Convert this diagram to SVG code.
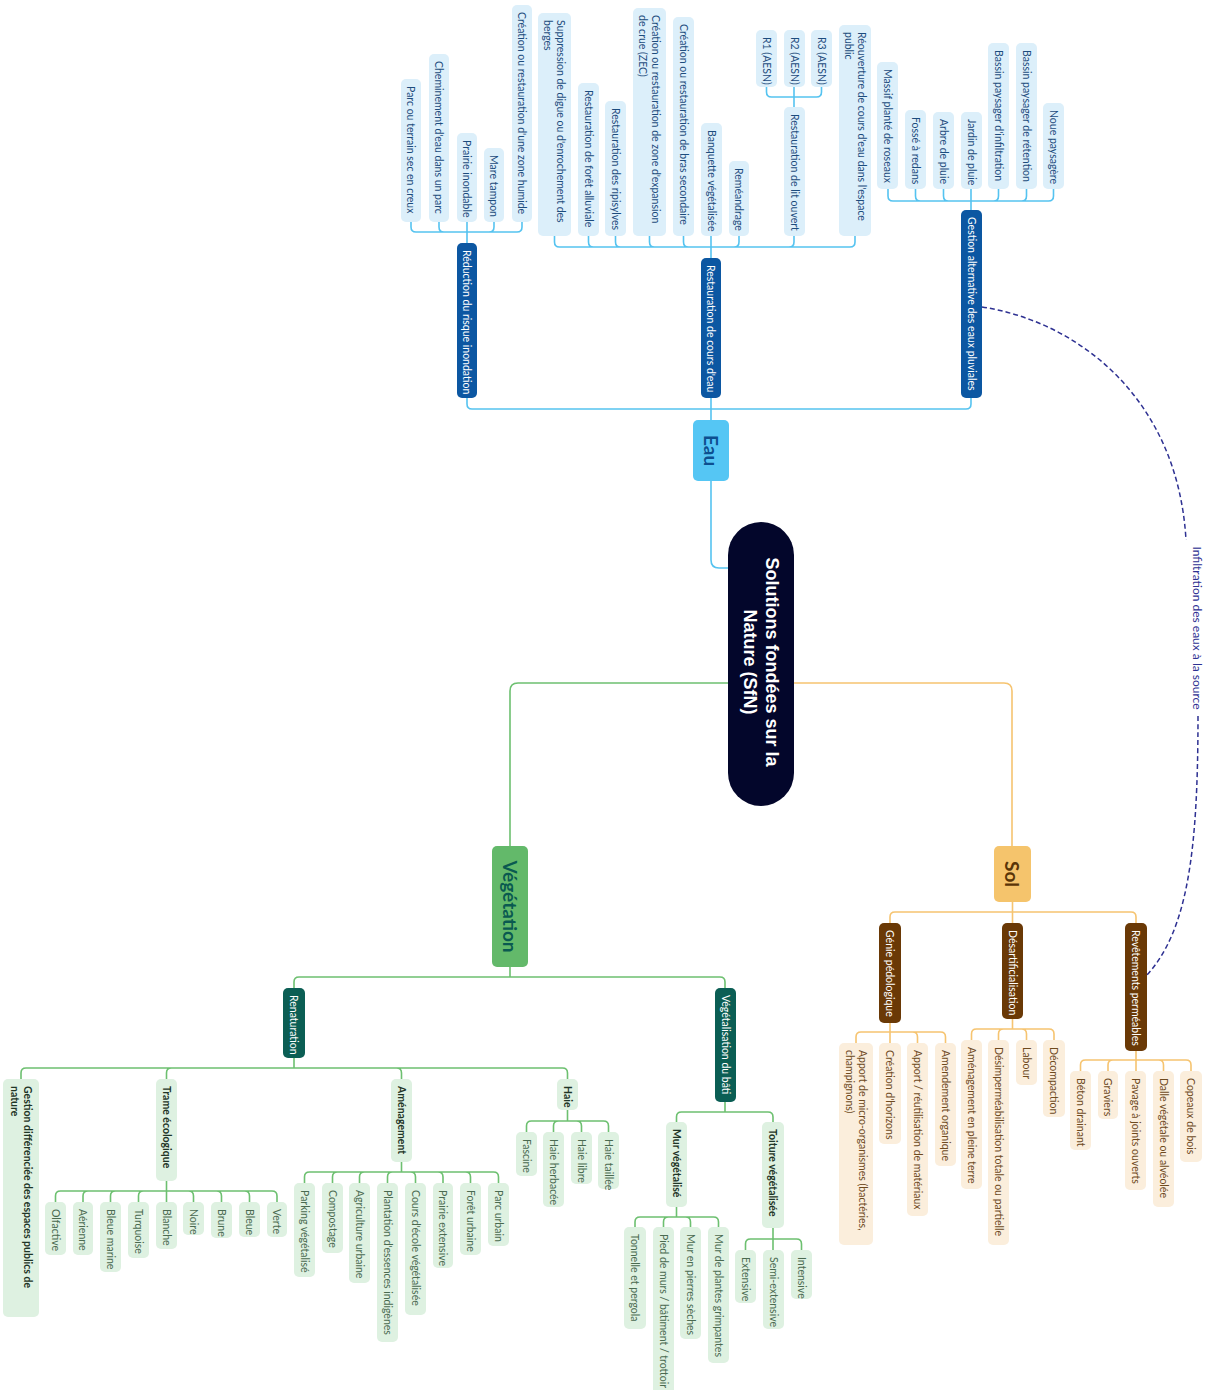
<svg xmlns="http://www.w3.org/2000/svg" width="1213" height="1390" viewBox="0 0 1213 1390">
<style>
text{font-family:Lato,"Open Sans","Liberation Sans",sans-serif;font-size:10.5px;dominant-baseline:central}
.cb{fill:none;stroke:#55C3F0;stroke-width:1.6}
.cg{fill:none;stroke:#6DC070;stroke-width:1.6}
.co{fill:none;stroke:#F6C470;stroke-width:1.6}
.lb rect{fill:#DCEFFA}.lb text{fill:#1C4C7D}
.bb rect{fill:#0C57A2}.bb text{fill:#fff}
.lg rect{fill:#DEF1E1}.lg text{fill:#4A6A50}
.hg rect{fill:#DEF1E1}.hg text{fill:#1F3527;font-weight:bold}
.bg rect{fill:#0B5E54}.bg text{fill:#fff}
.lo rect{fill:#FBEEDC}.lo text{fill:#6E4A1E}
.bo rect{fill:#6A3906}.bo text{fill:#fff}
.main text{font-weight:bold;font-size:19px;text-anchor:middle}
text.root{font-family:"Liberation Sans",Arial,sans-serif;font-weight:bold;font-size:18px;fill:#fff;text-anchor:middle}
text.lbl{font-size:12px;fill:#2E3192;text-anchor:middle}
</style>
<rect width="1213" height="1390" fill="#fff"/>
<g id="connectors">
<path class="cb" d="M711 481V560Q711 568 719 568H730"/>
<path class="cg" d="M728 683H518Q510 683 510 691V846"/>
<path class="co" d="M794 683H1004Q1012 683 1012 691V846"/>
<path class="cb" d="M711 420V409H472Q467 409 467 404V398M711 420V398M711 420V409H966Q971 409 971 404V398"/>
<path class="cb" d="M467 243V232H416Q411 232 411 227V222M467 243V232H444Q439 232 439 227V222M467 243V222M467 243V232H489Q494 232 494 227V222M467 243V232H517Q522 232 522 227V222"/>
<path class="cb" d="M711 258V247H559.5Q554.5 247 554.5 242V236M711 258V247H593.5Q588.5 247 588.5 242V236M711 258V247H620.5Q615.5 247 615.5 242V236M711 258V247H654.5Q649.5 247 649.5 242V236M711 258V247H688.5Q683.5 247 683.5 242V236M711 258V236M711 258V247H734Q739 247 739 242V236M711 258V247H789Q794 247 794 242V236M711 258V247H850Q855 247 855 242V236"/>
<path class="cb" d="M794 107V97H771.5Q766.5 97 766.5 92V87M794 107V87M794 107V97H816.5Q821.5 97 821.5 92V87"/>
<path class="cb" d="M971 210V201H893Q888 201 888 196V189M971 210V201H920.5Q915.5 201 915.5 196V189M971 210V201H948.5Q943.5 201 943.5 196V189M971 210V189M971 210V201H993.5Q998.5 201 998.5 196V189M971 210V201H1021.5Q1026.5 201 1026.5 196V189M971 210V201H1048.5Q1053.5 201 1053.5 196V189"/>
<path class="cg" d="M510 967V977H299Q294 977 294 982V988M510 967V977H720Q725 977 725 982V988"/>
<path class="cg" d="M294 1058V1068H26Q21 1068 21 1073V1079M294 1058V1068H171.5Q166.5 1068 166.5 1073V1079M294 1058V1068H396.5Q401.5 1068 401.5 1073V1079M294 1058V1068H562.5Q567.5 1068 567.5 1073V1079"/>
<path class="cg" d="M166.5 1181V1191H60.5Q55.5 1191 55.5 1196V1202M166.5 1181V1191H88Q83 1191 83 1196V1202M166.5 1181V1191H115.5Q110.5 1191 110.5 1196V1202M166.5 1181V1191H143.5Q138.5 1191 138.5 1196V1202M166.5 1181V1202M166.5 1181V1191H188.5Q193.5 1191 193.5 1196V1202M166.5 1181V1191H216.5Q221.5 1191 221.5 1196V1202M166.5 1181V1191H244.5Q249.5 1191 249.5 1196V1202M166.5 1181V1191H272Q277 1191 277 1196V1202"/>
<path class="cg" d="M401.5 1162V1172H309.5Q304.5 1172 304.5 1177V1183M401.5 1162V1172H337.5Q332.5 1172 332.5 1177V1183M401.5 1162V1172H364.5Q359.5 1172 359.5 1177V1183M401.5 1162V1172H392.5Q387.5 1172 387.5 1177V1183M401.5 1162V1172H410.5Q415.5 1172 415.5 1177V1183M401.5 1162V1172H438Q443 1172 443 1177V1183M401.5 1162V1172H465.5Q470.5 1172 470.5 1177V1183M401.5 1162V1172H493.5Q498.5 1172 498.5 1177V1183"/>
<path class="cg" d="M567.5 1110V1121H531.5Q526.5 1121 526.5 1126V1132M567.5 1110V1121H558.5Q553.5 1121 553.5 1126V1132M567.5 1110V1121H576.5Q581.5 1121 581.5 1126V1132M567.5 1110V1121H603.5Q608.5 1121 608.5 1126V1132"/>
<path class="cg" d="M725 1102V1112H681.5Q676.5 1112 676.5 1117V1122M725 1102V1112H768Q773 1112 773 1117V1122"/>
<path class="cg" d="M676.5 1207V1217H640Q635 1217 635 1222V1227M676.5 1207V1217H668.5Q663.5 1217 663.5 1222V1227M676.5 1207V1217H685.5Q690.5 1217 690.5 1222V1227M676.5 1207V1217H713.5Q718.5 1217 718.5 1222V1227"/>
<path class="cg" d="M773 1228V1239H750.5Q745.5 1239 745.5 1244V1250M773 1228V1250M773 1228V1239H796.5Q801.5 1239 801.5 1244V1250"/>
<path class="co" d="M1012.5 902V912H895Q890 912 890 917V923M1012.5 902V923M1012.5 902V912H1131Q1136 912 1136 917V923"/>
<path class="co" d="M890 1023V1032H861Q856 1032 856 1037V1043M890 1023V1043M890 1023V1032H912.5Q917.5 1032 917.5 1037V1043M890 1023V1032H940.5Q945.5 1032 945.5 1037V1043"/>
<path class="co" d="M1012.5 1019V1029H976.5Q971.5 1029 971.5 1034V1040M1012.5 1019V1029H1003.5Q998.5 1029 998.5 1034V1040M1012.5 1019V1029H1021.5Q1026.5 1029 1026.5 1034V1040M1012.5 1019V1029H1049Q1054 1029 1054 1034V1040"/>
<path class="co" d="M1136 1051V1060H1085.5Q1080.5 1060 1080.5 1065V1071M1136 1051V1060H1113Q1108 1060 1108 1065V1071M1136 1051V1071M1136 1051V1060H1158.5Q1163.5 1060 1163.5 1065V1071M1136 1051V1060H1186Q1191 1060 1191 1065V1071"/>
<g id="link-infiltration">
<path d="M982 307C1080 322 1178 400 1186 540M1198 716C1198 850 1188 930 1147 975" fill="none" stroke="#2E3192" stroke-width="1.5" stroke-dasharray="5 3"/>
<text class="lbl" transform="translate(1197,628) rotate(90)">Infiltration des eaux à la source</text>
</g>
</g>
<g id="n-root"><rect x="728" y="522" width="66" height="284" rx="33" fill="#03062B"/><text class="root" transform="translate(761,662) rotate(90)"><tspan x="0" y="-11">Solutions fondées sur la</tspan><tspan x="0" y="11">Nature (SfN)</tspan></text></g>
<g id="n-eau" class="main"><rect x="693" y="420" width="36" height="61" rx="5" fill="#55C6F4"/><text transform="translate(711,450.5) rotate(90)" fill="#0D4F8F">Eau</text></g>
<g id="n-vegetation" class="main"><rect x="492" y="846" width="36" height="121" rx="5" fill="#63B96A"/><text transform="translate(510,906.5) rotate(90)" fill="#0A5A50">Végétation</text></g>
<g id="n-sol" class="main"><rect x="994" y="846" width="37" height="56" rx="5" fill="#F5C46C"/><text transform="translate(1012.5,874) rotate(90)" fill="#5A3507">Sol</text></g>
<g id="n-reduction" class="bb"><rect x="457" y="243" width="20" height="155" rx="5"/><text transform="translate(467,250) rotate(90)">Réduction du risque inondation</text></g>
<g id="n-restauration" class="bb"><rect x="701" y="258" width="20" height="140" rx="5"/><text transform="translate(711,265) rotate(90)">Restauration de cours d'eau</text></g>
<g id="n-gestion" class="bb"><rect x="961" y="210" width="21" height="188" rx="5"/><text transform="translate(971.5,217) rotate(90)">Gestion alternative des eaux pluviales</text></g>
<g id="n-parc-creux" class="lb"><rect x="401" y="79" width="20" height="143" rx="5"/><text transform="translate(411,86) rotate(90)">Parc ou terrain sec en creux</text></g>
<g id="n-cheminement" class="lb"><rect x="429" y="54" width="20" height="168" rx="5"/><text transform="translate(439,61) rotate(90)">Cheminement d'eau dans un parc</text></g>
<g id="n-prairie-inondable" class="lb"><rect x="457" y="133" width="20" height="89" rx="5"/><text transform="translate(467,140) rotate(90)">Prairie inondable</text></g>
<g id="n-mare" class="lb"><rect x="484" y="148" width="20" height="74" rx="5"/><text transform="translate(494,155) rotate(90)">Mare tampon</text></g>
<g id="n-zone-humide" class="lb"><rect x="512" y="5" width="20" height="217" rx="5"/><text transform="translate(522,12) rotate(90)">Création ou restauration d'une zone humide</text></g>
<g id="n-suppression" class="lb"><rect x="538" y="13" width="33" height="223" rx="5"/><text transform="translate(554.5,20) rotate(90)"><tspan x="0" y="-6.5">Suppression de digue ou d'enrochement des</tspan><tspan x="0" y="6.5">berges</tspan></text></g>
<g id="n-foret-alluviale" class="lb"><rect x="578" y="83" width="21" height="153" rx="5"/><text transform="translate(588.5,90) rotate(90)">Restauration de forêt alluviale</text></g>
<g id="n-ripisylves" class="lb"><rect x="605" y="101" width="21" height="135" rx="5"/><text transform="translate(615.5,108) rotate(90)">Restauration des ripisylves</text></g>
<g id="n-zec" class="lb"><rect x="633" y="8" width="33" height="228" rx="5"/><text transform="translate(649.5,15) rotate(90)"><tspan x="0" y="-6.5">Création ou restauration de zone d'expansion</tspan><tspan x="0" y="6.5">de crue (ZEC)</tspan></text></g>
<g id="n-bras" class="lb"><rect x="673" y="17" width="21" height="219" rx="5"/><text transform="translate(683.5,24) rotate(90)">Création ou restauration de bras secondaire</text></g>
<g id="n-banquette" class="lb"><rect x="701" y="123" width="21" height="113" rx="5"/><text transform="translate(711.5,130) rotate(90)">Banquette végétalisée</text></g>
<g id="n-remeandrage" class="lb"><rect x="729" y="161" width="20" height="75" rx="5"/><text transform="translate(739,168) rotate(90)">Reméandrage</text></g>
<g id="n-lit-ouvert" class="lb"><rect x="784" y="107" width="21" height="129" rx="5"/><text transform="translate(794.5,114) rotate(90)">Restauration de lit ouvert</text></g>
<g id="n-r1" class="lb"><rect x="756" y="30" width="21" height="57" rx="5"/><text transform="translate(766.5,37) rotate(90)">R1 (AESN)</text></g>
<g id="n-r2" class="lb"><rect x="784" y="30" width="21" height="57" rx="5"/><text transform="translate(794.5,37) rotate(90)">R2 (AESN)</text></g>
<g id="n-r3" class="lb"><rect x="811" y="30" width="21" height="57" rx="5"/><text transform="translate(821.5,37) rotate(90)">R3 (AESN)</text></g>
<g id="n-reouverture" class="lb"><rect x="839" y="25" width="32" height="211" rx="5"/><text transform="translate(855,32) rotate(90)"><tspan x="0" y="-6.5">Réouverture de cours d'eau dans l'espace</tspan><tspan x="0" y="6.5">public</tspan></text></g>
<g id="n-massif" class="lb"><rect x="877" y="62" width="21" height="127" rx="5"/><text transform="translate(887.5,69) rotate(90)">Massif planté de roseaux</text></g>
<g id="n-fosse" class="lb"><rect x="905" y="110" width="21" height="79" rx="5"/><text transform="translate(915.5,117) rotate(90)">Fossé à redans</text></g>
<g id="n-arbre-pluie" class="lb"><rect x="933" y="112" width="21" height="77" rx="5"/><text transform="translate(943.5,119) rotate(90)">Arbre de pluie</text></g>
<g id="n-jardin-pluie" class="lb"><rect x="961" y="112" width="21" height="77" rx="5"/><text transform="translate(971.5,119) rotate(90)">Jardin de pluie</text></g>
<g id="n-bassin-infiltration" class="lb"><rect x="988" y="43" width="21" height="146" rx="5"/><text transform="translate(998.5,50) rotate(90)">Bassin paysager d'infiltration</text></g>
<g id="n-bassin-retention" class="lb"><rect x="1016" y="43" width="21" height="146" rx="5"/><text transform="translate(1026.5,50) rotate(90)">Bassin paysager de rétention</text></g>
<g id="n-noue" class="lb"><rect x="1043" y="103" width="21" height="86" rx="5"/><text transform="translate(1053.5,110) rotate(90)">Noue paysagère</text></g>
<g id="n-renaturation" class="bg"><rect x="283" y="988" width="22" height="70" rx="5"/><text transform="translate(294,995) rotate(90)">Renaturation</text></g>
<g id="n-veg-bati" class="bg"><rect x="715" y="988" width="21" height="114" rx="5"/><text transform="translate(725.5,995) rotate(90)">Végétalisation du bâti</text></g>
<g id="n-gestion-diff" class="hg"><rect x="3" y="1079" width="36" height="238" rx="5"/><text transform="translate(21,1086) rotate(90)"><tspan x="0" y="-6.5">Gestion différenciée des espaces publics de</tspan><tspan x="0" y="6.5">nature</tspan></text></g>
<g id="n-trame" class="hg"><rect x="156" y="1079" width="21" height="102" rx="5"/><text transform="translate(166.5,1086) rotate(90)">Trame écologique</text></g>
<g id="n-amenagement" class="hg"><rect x="391" y="1079" width="21" height="83" rx="5"/><text transform="translate(401.5,1086) rotate(90)">Aménagement</text></g>
<g id="n-haie" class="hg"><rect x="557" y="1079" width="21" height="31" rx="5"/><text transform="translate(567.5,1086) rotate(90)">Haie</text></g>
<g id="n-olfactive" class="lg"><rect x="45" y="1202" width="21" height="53" rx="5"/><text transform="translate(55.5,1209) rotate(90)">Olfactive</text></g>
<g id="n-aerienne" class="lg"><rect x="73" y="1202" width="20" height="53" rx="5"/><text transform="translate(83,1209) rotate(90)">Aérienne</text></g>
<g id="n-bleue-marine" class="lg"><rect x="100" y="1202" width="21" height="70" rx="5"/><text transform="translate(110.5,1209) rotate(90)">Bleue marine</text></g>
<g id="n-turquoise" class="lg"><rect x="128" y="1202" width="21" height="56" rx="5"/><text transform="translate(138.5,1209) rotate(90)">Turquoise</text></g>
<g id="n-blanche" class="lg"><rect x="156" y="1202" width="21" height="47" rx="5"/><text transform="translate(166.5,1209) rotate(90)">Blanche</text></g>
<g id="n-noire" class="lg"><rect x="183" y="1202" width="21" height="33" rx="5"/><text transform="translate(193.5,1209) rotate(90)">Noire</text></g>
<g id="n-brune" class="lg"><rect x="211" y="1202" width="21" height="36" rx="5"/><text transform="translate(221.5,1209) rotate(90)">Brune</text></g>
<g id="n-bleue" class="lg"><rect x="239" y="1202" width="21" height="35" rx="5"/><text transform="translate(249.5,1209) rotate(90)">Bleue</text></g>
<g id="n-verte" class="lg"><rect x="267" y="1202" width="20" height="35" rx="5"/><text transform="translate(277,1209) rotate(90)">Verte</text></g>
<g id="n-parking" class="lg"><rect x="294" y="1183" width="21" height="94" rx="5"/><text transform="translate(304.5,1190) rotate(90)">Parking végétalisé</text></g>
<g id="n-compostage" class="lg"><rect x="322" y="1183" width="21" height="70" rx="5"/><text transform="translate(332.5,1190) rotate(90)">Compostage</text></g>
<g id="n-agriculture" class="lg"><rect x="349" y="1183" width="21" height="100" rx="5"/><text transform="translate(359.5,1190) rotate(90)">Agriculture urbaine</text></g>
<g id="n-plantation" class="lg"><rect x="377" y="1183" width="21" height="159" rx="5"/><text transform="translate(387.5,1190) rotate(90)">Plantation d'essences indigènes</text></g>
<g id="n-cours-ecole" class="lg"><rect x="405" y="1183" width="21" height="132" rx="5"/><text transform="translate(415.5,1190) rotate(90)">Cours d'école végétalisée</text></g>
<g id="n-prairie-ext" class="lg"><rect x="433" y="1183" width="20" height="85" rx="5"/><text transform="translate(443,1190) rotate(90)">Prairie extensive</text></g>
<g id="n-foret-urbaine" class="lg"><rect x="460" y="1183" width="21" height="72" rx="5"/><text transform="translate(470.5,1190) rotate(90)">Forêt urbaine</text></g>
<g id="n-parc-urbain" class="lg"><rect x="488" y="1183" width="21" height="63" rx="5"/><text transform="translate(498.5,1190) rotate(90)">Parc urbain</text></g>
<g id="n-fascine" class="lg"><rect x="516" y="1132" width="21" height="44" rx="5"/><text transform="translate(526.5,1139) rotate(90)">Fascine</text></g>
<g id="n-haie-herbacee" class="lg"><rect x="543" y="1132" width="21" height="75" rx="5"/><text transform="translate(553.5,1139) rotate(90)">Haie herbacée</text></g>
<g id="n-haie-libre" class="lg"><rect x="571" y="1132" width="21" height="52" rx="5"/><text transform="translate(581.5,1139) rotate(90)">Haie libre</text></g>
<g id="n-haie-taillee" class="lg"><rect x="598" y="1132" width="21" height="57" rx="5"/><text transform="translate(608.5,1139) rotate(90)">Haie taillée</text></g>
<g id="n-mur-veg" class="hg"><rect x="666" y="1122" width="21" height="85" rx="5"/><text transform="translate(676.5,1129) rotate(90)">Mur végétalisé</text></g>
<g id="n-toiture-veg" class="hg"><rect x="762" y="1122" width="22" height="106" rx="5"/><text transform="translate(773,1129) rotate(90)">Toiture végétalisée</text></g>
<g id="n-tonnelle" class="lg"><rect x="624" y="1227" width="22" height="102" rx="5"/><text transform="translate(635,1234) rotate(90)">Tonnelle et pergola</text></g>
<g id="n-pied-murs" class="lg"><rect x="653" y="1227" width="21" height="168" rx="5"/><text transform="translate(663.5,1234) rotate(90)">Pied de murs / bâtiment / trottoir</text></g>
<g id="n-pierres-seches" class="lg"><rect x="680" y="1227" width="21" height="112" rx="5"/><text transform="translate(690.5,1234) rotate(90)">Mur en pierres sèches</text></g>
<g id="n-plantes-grimpantes" class="lg"><rect x="708" y="1227" width="21" height="136" rx="5"/><text transform="translate(718.5,1234) rotate(90)">Mur de plantes grimpantes</text></g>
<g id="n-extensive" class="lg"><rect x="735" y="1250" width="21" height="53" rx="5"/><text transform="translate(745.5,1257) rotate(90)">Extensive</text></g>
<g id="n-semi-extensive" class="lg"><rect x="763" y="1250" width="21" height="79" rx="5"/><text transform="translate(773.5,1257) rotate(90)">Semi-extensive</text></g>
<g id="n-intensive" class="lg"><rect x="791" y="1250" width="21" height="49" rx="5"/><text transform="translate(801.5,1257) rotate(90)">Intensive</text></g>
<g id="n-genie" class="bo"><rect x="879" y="923" width="22" height="100" rx="5"/><text transform="translate(890,930) rotate(90)">Génie pédologique</text></g>
<g id="n-desart" class="bo"><rect x="1002" y="923" width="21" height="96" rx="5"/><text transform="translate(1012.5,930) rotate(90)">Désartificialisation</text></g>
<g id="n-revetements" class="bo"><rect x="1125" y="923" width="22" height="128" rx="5"/><text transform="translate(1136,930) rotate(90)">Revêtements perméables</text></g>
<g id="n-micro-org" class="lo"><rect x="839" y="1043" width="34" height="202" rx="5"/><text transform="translate(856,1050) rotate(90)"><tspan x="0" y="-6.5">Apport de micro-organismes (bactéries,</tspan><tspan x="0" y="6.5">champignons)</tspan></text></g>
<g id="n-horizons" class="lo"><rect x="879" y="1043" width="22" height="101" rx="5"/><text transform="translate(890,1050) rotate(90)">Création d'horizons</text></g>
<g id="n-materiaux" class="lo"><rect x="907" y="1043" width="21" height="173" rx="5"/><text transform="translate(917.5,1050) rotate(90)">Apport / réutilisation de matériaux</text></g>
<g id="n-amendement" class="lo"><rect x="935" y="1043" width="21" height="123" rx="5"/><text transform="translate(945.5,1050) rotate(90)">Amendement organique</text></g>
<g id="n-pleine-terre" class="lo"><rect x="961" y="1040" width="21" height="149" rx="5"/><text transform="translate(971.5,1047) rotate(90)">Aménagement en pleine terre</text></g>
<g id="n-desimper" class="lo"><rect x="988" y="1040" width="21" height="205" rx="5"/><text transform="translate(998.5,1047) rotate(90)">Désimperméabilisation totale ou partielle</text></g>
<g id="n-labour" class="lo"><rect x="1016" y="1040" width="21" height="45" rx="5"/><text transform="translate(1026.5,1047) rotate(90)">Labour</text></g>
<g id="n-decompaction" class="lo"><rect x="1043" y="1040" width="22" height="77" rx="5"/><text transform="translate(1054,1047) rotate(90)">Décompaction</text></g>
<g id="n-beton" class="lo"><rect x="1070" y="1071" width="21" height="79" rx="5"/><text transform="translate(1080.5,1078) rotate(90)">Béton drainant</text></g>
<g id="n-graviers" class="lo"><rect x="1098" y="1071" width="20" height="48" rx="5"/><text transform="translate(1108,1078) rotate(90)">Graviers</text></g>
<g id="n-pavage" class="lo"><rect x="1125" y="1071" width="21" height="119" rx="5"/><text transform="translate(1135.5,1078) rotate(90)">Pavage à joints ouverts</text></g>
<g id="n-dalle" class="lo"><rect x="1153" y="1071" width="21" height="136" rx="5"/><text transform="translate(1163.5,1078) rotate(90)">Dalle végétale ou alvéolée</text></g>
<g id="n-copeaux" class="lo"><rect x="1180" y="1071" width="22" height="91" rx="5"/><text transform="translate(1191,1078) rotate(90)">Copeaux de bois</text></g>
</svg>
